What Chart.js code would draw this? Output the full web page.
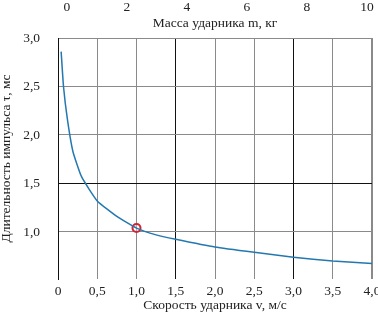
<!DOCTYPE html>
<html>
<head>
<meta charset="utf-8">
<script src="https://cdn.jsdelivr.net/npm/chart.js@4/dist/chart.umd.min.js"></script>
<style>
html,body{margin:0;padding:0;background:#fff;}
#wrap{position:relative;width:378px;height:313px;}
</style>
</head>
<body>
<div id="wrap"><canvas id="c" width="378" height="313"></canvas></div>
<script>
// Data
const speedV = [0.04, 0.07, 0.12, 0.19, 0.30, 0.50, 0.75, 1.00, 1.25, 1.50, 2.00, 2.50, 3.00, 3.50, 4.00];
const pulseTau = [2.86, 2.50, 2.16, 1.83, 1.57, 1.32, 1.16, 1.04, 0.97, 0.925, 0.845, 0.79, 0.74, 0.70, 0.675];
const markerV = [1.0];
const markerTau = [1.04];
const xTicks = [0, 0.5, 1.0, 1.5, 2.0, 2.5, 3.0, 3.5, 4.0];
const yTicks = [1.0, 1.5, 2.0, 2.5, 3.0];
const massTicks = [0, 2, 4, 6, 8, 10];
const xTitle = 'Скорость ударника v, м/с';
const yTitle = 'Длительность импульса τ, мс';
const topTitle = 'Масса ударника m, кг';

const FONT = {family: "'Liberation Serif', 'DejaVu Serif', serif", size: 13.5, lineHeight: 1.0};
const TXT = '#222';
const GRAY = '#8a8a8a';
const DARK = '#111';
const fmt = v => v === 0 ? '0' : v.toFixed(1).replace('.', ',');

new Chart(document.getElementById('c'), {
  type: 'line',
  data: {
    datasets: [
      {
        data: speedV.map((v, i) => ({x: v, y: pulseTau[i]})),
        borderColor: '#2378b0',
        borderWidth: 1.5,
        pointRadius: 0,
        tension: 0.15,
        fill: false,
        xAxisID: 'x', yAxisID: 'y'
      },
      {
        data: markerV.map((v, i) => ({x: v, y: markerTau[i]})),
        showLine: false,
        pointRadius: 4,
        pointBorderWidth: 2,
        pointBorderColor: '#d42030',
        pointBackgroundColor: 'rgba(255,255,255,0.3)',
        xAxisID: 'x', yAxisID: 'y'
      }
    ]
  },
  options: {
    responsive: false,
    animation: false,
    events: [],
    layout: {padding: {left: 0, right: 0, top: 0, bottom: 0}},
    plugins: {legend: {display: false}, tooltip: {enabled: false}, title: {display: false}},
    scales: {
      x: {
        type: 'linear', position: 'bottom', min: 0, max: 4,
        afterBuildTicks: s => { s.ticks = xTicks.map(v => ({value: v})); },
        afterFit: s => { s.paddingRight = 5; s.paddingLeft = 0; s.height = 34; },
        ticks: {font: FONT, color: TXT, padding: 6, maxRotation: 0, callback: v => fmt(v)},
        grid: {
          drawTicks: false,
          color: c => (c.tick && (c.tick.value === 1.5 || c.tick.value === 3)) ? DARK : GRAY,
          lineWidth: c => (c.tick && c.tick.value === 4) ? 2 : 1
        },
        border: {display: false},
        title: {display: true, text: xTitle, font: FONT, color: TXT, padding: {top: 1, bottom: 1}}
      },
      y: {
        type: 'linear', position: 'left', min: 0.515, max: 3.0,
        afterBuildTicks: s => { s.ticks = yTicks.map(v => ({value: v})); },
        afterFit: s => { s.width = 58; s.paddingTop = 0; s.paddingBottom = 0; },
        ticks: {font: FONT, color: TXT, padding: 18, callback: v => fmt(v)},
        grid: {
          drawTicks: false,
          color: c => (c.tick && c.tick.value === 1.5) ? DARK : GRAY
        },
        border: {display: true, color: DARK, width: 1},
        title: {display: true, text: yTitle, font: FONT, color: TXT, padding: {top: 0, bottom: 0}}
      },
      xTopTitle: {
        type: 'linear', position: 'top', weight: 0, min: -0.3, max: 10.17,
        afterFit: s => { s.height = 24; },
        ticks: {display: false},
        grid: {display: false, drawTicks: false},
        border: {display: false},
        title: {display: true, text: topTitle, font: FONT, color: TXT, padding: {top: 3, bottom: 7}}
      },
      xTop: {
        type: 'linear', position: 'top', weight: 1, min: -0.3, max: 10.17,
        afterBuildTicks: s => { s.ticks = massTicks.map(v => ({value: v})); },
        afterFit: s => { s.paddingRight = 0; s.paddingLeft = 0; s.height = 14; },
        ticks: {font: FONT, color: TXT, padding: 0, maxRotation: 0},
        grid: {display: false, drawTicks: false},
        border: {display: false}
      }
    }
  }
});
</script>
</body>
</html>
